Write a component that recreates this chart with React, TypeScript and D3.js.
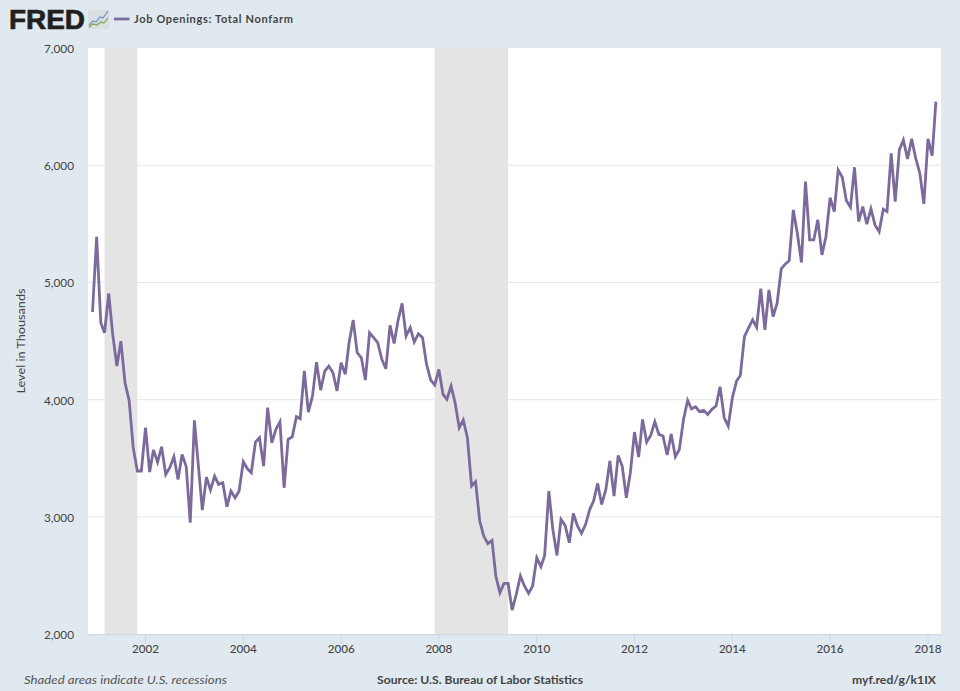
import React from "react";
import * as d3 from "d3";

const jobOpenings: number[] = [
  4748, 5390, 4657, 4571, 4907, 4557, 4287, 4500, 4145, 3989, 3591, 3392, 3392, 3761, 3383, 3571,
  3468, 3599, 3363, 3420, 3514, 3320, 3534, 3429, 2951, 3824, 3420, 3059, 3340, 3230, 3349, 3278,
  3292, 3087, 3221, 3164, 3221, 3471, 3411, 3377, 3639, 3676, 3434, 3932, 3633, 3747, 3812, 3249,
  3662, 3684, 3855, 3838, 4245, 3895, 4031, 4321, 4082, 4245, 4287, 4230, 4074, 4316, 4216, 4486,
  4679, 4401, 4358, 4168, 4571, 4529, 4486, 4344, 4264, 4634, 4480, 4671, 4822, 4543, 4614, 4492,
  4563, 4529, 4301, 4168, 4125, 4259, 4045, 4003, 4117, 3974, 3761, 3827, 3676, 3264, 3301, 2965,
  2837, 2772, 2800, 2496, 2354, 2433, 2433, 2206, 2340, 2496, 2411, 2348, 2411, 2652, 2576, 2672,
  3221, 2894, 2672, 2979, 2928, 2780, 3031, 2923, 2860, 2937, 3065, 3136, 3286, 3107, 3235, 3477,
  3178, 3525, 3434, 3164, 3377, 3724, 3511, 3832, 3639, 3696, 3812, 3704, 3690, 3528, 3707, 3514,
  3576, 3832, 3994, 3923, 3940, 3898, 3909, 3875, 3918, 3946, 4111, 3846, 3775, 4017, 4159, 4206,
  4539, 4610, 4681, 4618, 4948, 4596, 4937, 4709, 4823, 5116, 5158, 5184, 5619, 5420, 5170, 5861,
  5363, 5363, 5534, 5235, 5392, 5724, 5605, 5960, 5898, 5699, 5642, 5983, 5520, 5647, 5497, 5628,
  5491, 5434, 5625, 5605, 6102, 5690, 6131, 6216, 6054, 6225, 6060, 5932, 5670, 6225, 6082, 6543,
];
const startDate = new Date(Date.UTC(2000, 11, 1));
const endDate = new Date(Date.UTC(2018, 2, 1));
const dates: Date[] = d3.utcMonth.range(startDate, d3.utcMonth.offset(endDate, 1));
const recessions: [Date, Date][] = [
  [new Date(Date.UTC(2001, 2, 1)), new Date(Date.UTC(2001, 10, 1))],
  [new Date(Date.UTC(2007, 11, 1)), new Date(Date.UTC(2009, 5, 1))],
];
const yTicks = [2000, 3000, 4000, 5000, 6000, 7000];
const xTickYears = [2002, 2004, 2006, 2008, 2010, 2012, 2014, 2016, 2018];

const title = "Job Openings: Total Nonfarm";
const yLabel = "Level in Thousands";
const noteText = "Shaded areas indicate U.S. recessions";
const sourceText = "Source: U.S. Bureau of Labor Statistics";
const linkText = "myf.red/g/k1IX";

const BG = "#e1e9f0";
const LINE = "#7c6a9c";
const TEXT = "#444444";
const FONT = "Lato, 'Open Sans', sans-serif";

export default function App() {
  const x = d3.scaleUtc().domain([startDate, endDate]).range([92.5, 935.9]);
  const y = d3.scaleLinear().domain([2000, 7000]).range([634.2, 48]);
  const left = 88, right = 941;
  const line = d3.line<number>()
    .x((_, i) => x(dates[i]))
    .y((d) => y(d));
  const fmt = d3.format(",");
  return (
    <svg width={960} height={691} style={{ position: "absolute", left: 0, top: 0, display: "block" }} fontFamily={FONT}>
      <rect width={960} height={691} fill={BG} />
      <rect x={left} y={y(7000)} width={right - left} height={y(2000) - y(7000)} fill="#ffffff" />
      {recessions.map(([a, b], i) => (
        <rect key={i} x={x(a)} y={y(7000)} width={x(b) - x(a)} height={y(2000) - y(7000)} fill="#e4e4e4" />
      ))}
      {yTicks.slice(1, -1).map((t) => {
        const segs = [[left, x(recessions[0][0])], [x(recessions[0][1]), x(recessions[1][0])], [x(recessions[1][1]), right]];
        return segs.map(([a, b], i) => (
          <line key={t + "-" + i} x1={a} x2={b} y1={y(t)} y2={y(t)} stroke="#e6e6e6" strokeWidth={1} />
        ));
      })}
      <line x1={left} x2={right} y1={y(2000) + 0.5} y2={y(2000) + 0.5} stroke="#ccd6e6" strokeWidth={1} />
      {xTickYears.map((yr) => {
        const px = x(new Date(Date.UTC(yr, 0, 1)));
        return (
          <g key={yr}>
            <line x1={px} x2={px} y1={y(2000)} y2={y(2000) + 10} stroke="#ccd6e6" strokeWidth={1} />
            <text x={px} y={653} textAnchor="middle" fontSize={12} fontWeight={500} fill={TEXT} textLength={27} lengthAdjust="spacingAndGlyphs">{yr}</text>
          </g>
        );
      })}
      {yTicks.map((t) => (
        <text key={t} x={74} y={y(t) + 5} textAnchor="end" fontSize={12} fill={TEXT} textLength={30} lengthAdjust="spacingAndGlyphs">{fmt(t)}</text>
      ))}
      <text transform="translate(25,341) rotate(-90)" textAnchor="middle" fontSize={11} fill={TEXT} textLength={105} lengthAdjust="spacingAndGlyphs">{yLabel}</text>

      <path d={line(jobOpenings) ?? ""} fill="none" stroke={LINE} strokeWidth={2.8} strokeLinejoin="miter" strokeMiterlimit={4} />

      {/* FRED logo */}
      <text x={9} y={29} fontFamily="'Liberation Sans', Arial, sans-serif" fontWeight={700} fontSize={27} fill="#231f20" stroke="#231f20" strokeWidth={0.7} textLength={76} lengthAdjust="spacingAndGlyphs">FRED</text>
      <g>
        <rect x={88} y={10} width={21} height={19} rx={1.5} fill="#d9dee2" />
        <path d="M89 25 L93 21 L96 22 L100 17 L103 18 L108 11" fill="none" stroke="#6f95c4" strokeWidth={1.2} />
        <path d="M89 27 L93 24 L97 25 L101 22 L104 23 L108 18" fill="none" stroke="#7fa850" strokeWidth={1.2} />
      </g>
      <line x1={114} x2={129.5} y1={19} y2={19} stroke={LINE} strokeWidth={2.8} />
      <text x={134} y={23} fontSize={11} fontWeight={700} fill={TEXT} textLength={159} lengthAdjust="spacing">{title}</text>

      <text x={24} y={684} fontSize={11.5} fontStyle="italic" fill="#555555" textLength={203} lengthAdjust="spacingAndGlyphs">{noteText}</text>
      <text x={377} y={684} fontSize={11.5} fontWeight={700} fill={TEXT} textLength={206} lengthAdjust="spacingAndGlyphs">{sourceText}</text>
      <text x={936} y={684} textAnchor="end" fontSize={11.5} fontWeight={700} fill={TEXT} textLength={84} lengthAdjust="spacingAndGlyphs">{linkText}</text>
    </svg>
  );
}
